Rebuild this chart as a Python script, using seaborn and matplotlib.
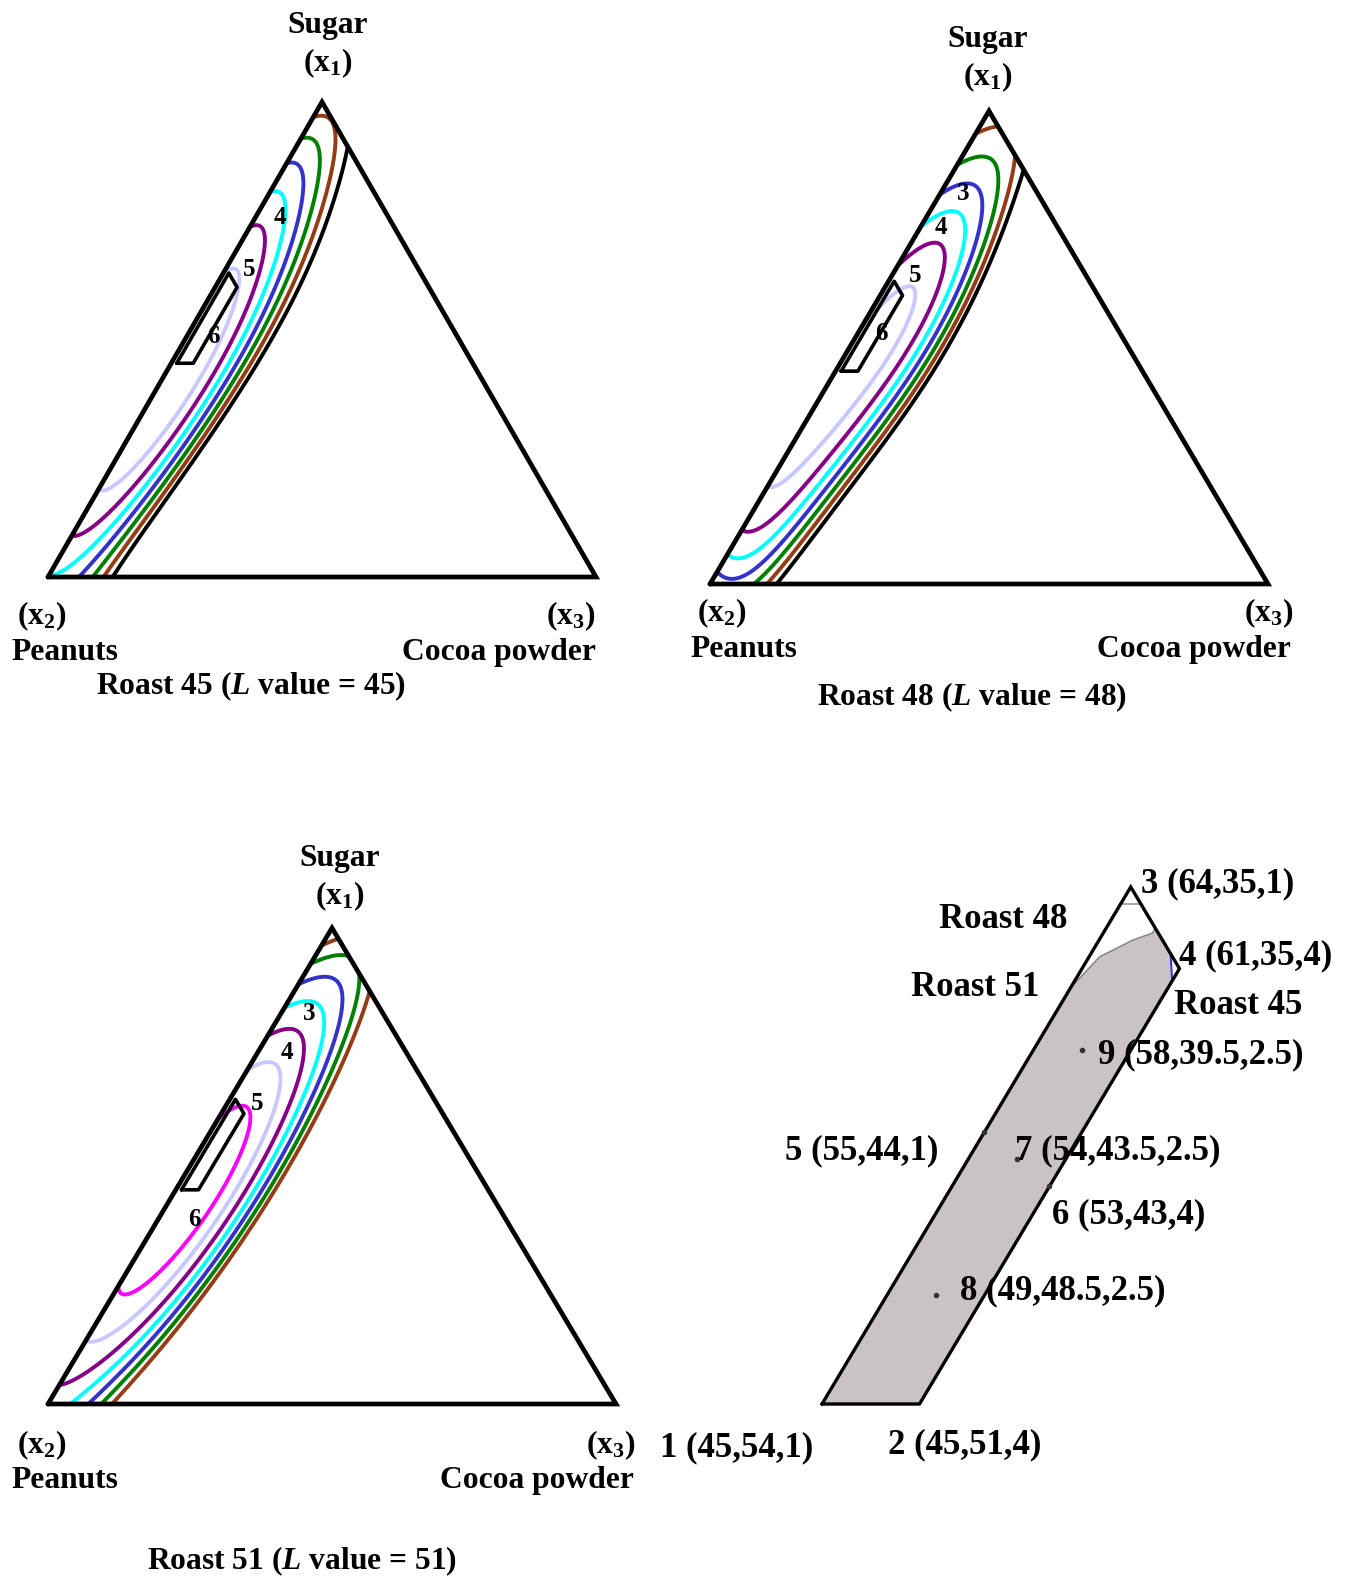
import numpy as np
import matplotlib
matplotlib.use("Agg")
import matplotlib.pyplot as plt
import seaborn as sns

# contour readings: sugar and cocoa fractions of points lying on each contour line
r45_sugar = [0, .27, .5, .73, .86, .906,
             0, .27, .5, .72, .839, .9025, .9446, .9726,
             0, .27, .5, .72, .832, .874, .909, .9236,
             0, .27, .5, .692, .797, .832, .857, .867,
             0, .1, .27, .5, .629, .685, .734, .776, .80, .808,
             .088, .113, .176, .27, .5, .615, .664, .706, .7305, .741,
             .19, .2, .27, .41, .5, .608, .636, .646]
r45_cocoa = [.116, .146, .157, .135, .108, .094,
             .104, .134, .146, .128, .097, .072, .049, .012,
             .083, .121, .132, .105, .0757, .058, .037, 0,
             .052, .106, .119, .094, .066, .051, .036, 0,
             .0097, .06, .094, .105, .086, .076, .064, .046, .031, 0,
             0, .03, .06, .076, .089, .075, .059, .044, .029, 0,
             0, .035, .052, .066, .065, .0385, .025, 0]
r45_level = [0] * 6 + [1] * 8 + [2] * 8 + [3] * 8 + [4] * 10 + [5] * 10 + [6] * 8

r48_sugar = [0, .3, .5, .65, .73, .829, .875,
             0, .3, .5, .646, .731, .801, .872, .907, .955, .967,
             0, .3, .5, .646, .731, .801, .872, .896, .886,
             .025, .01, .3, .5, .59, .66, .731, .808, .854, .822,
             .062, .054, .3, .5, .618, .674, .745, .791, .748,
             .115, .142, .3, .5, .56, .618, .689, .72, .667,
             .22, .24, .3, .5, .59, .63]
r48_cocoa = [.118, .160, .177, .164, .152, .138, .125,
             .106, .150, .168, .155, .142, .125, .102, .093, 0, .033,
             .07, .138, .153, .143, .130, .113, .081, .030, 0,
             0, .035, .123, .138, .135, .130, .118, .086, .033, 0,
             0, .045, .108, .123, .121, .111, .0815, .041, 0,
             .005, .04, .085, .105, .104, .097, .068, .040, 0,
             .021, .038, .050, .084, .063, .015]
r48_level = [0] * 7 + [1] * 10 + [2] * 9 + [3] * 10 + [4] * 9 + [5] * 9 + [6] * 6

r51_sugar = [0, .269, .5336, .635, .712, .796, .866, .96, .972,
             0, .269, .5336, .65, .747, .852, .898, .922, .954,
             0, .269, .5336, .635, .712, .796, .866, .905, .884,
             0, .269, .5336, .663, .747, .817, .8557, .8417,
             .0504, .08, .269, .5336, .607, .677, .747, .779, .761,
             .131, .16, .269, .5336, .635, .691, .7227, .691,
             .229, .245, .269, .40, .5336, .607, .6176, .62]
r51_cocoa = [.112, .167, .171, .17, .163, .148, .134, 0, .028,
             .0915, .151, .159, .155, .14, .112, .102, 0, .046,
             .074, .137, .150, .145, .135, .113, .083, .032, 0,
             .042, .124, .139, .125, .102, .07, .028, 0,
             0, .045, .110, .124, .117, .1, .074, .042, 0,
             0, .045, .089, .1065, .088, .065, .030, 0,
             .003, .035, .054, .074, .074, .049, .029, 0]
r51_level = [0] * 9 + [1] * 9 + [2] * 9 + [3] * 8 + [4] * 9 + [5] * 8 + [6] * 8

# constrained design region (%) and the check points
design_id = [1, 2, 4, 3]
design_sugar = [45, 45, 61, 64]
design_peanut = [54, 51, 35, 35]
design_cocoa = [1, 4, 4, 1]
pt_id = [5, 6, 7, 8, 9]
pt_sugar = [55, 53, 54, 49, 58]
pt_peanut = [44, 43, 43.5, 48.5, 39.5]
pt_cocoa = [1, 4, 2.5, 2.5, 2.5]

# boundaries inside the design region (fractions)
r51_bound_sugar = [.603, .6144, .6205, .6231, .625]
r51_bound_cocoa = [.01, .0133, .0204, .0252, .025]
r48_bound_sugar = [.6336, .6336]
r48_bound_cocoa = [.01, .0164]
r45_bound_sugar = [.6155, .6055]
r45_bound_cocoa = [.0345, .04]

BROWN, GREEN, BLUE = '#953c14', '#008000', '#3333cc'
CYAN, PURPLE, LAV, MAG = '#00ffff', '#850085', '#c8c8ff', '#ff00ff'
cols_a = ['black', BROWN, GREEN, BLUE, CYAN, PURPLE, LAV]
cols_b = [BROWN, GREEN, BLUE, CYAN, PURPLE, LAV, MAG]

sns.set_theme(style='white')
plt.rcParams['font.family'] = ['Liberation Serif', 'DejaVu Serif']
plt.rcParams['font.weight'] = 'bold'
plt.rcParams['text.color'] = 'black'
plt.rcParams['mathtext.fontset'] = 'custom'
plt.rcParams['mathtext.rm'] = 'Liberation Serif:bold'
plt.rcParams['mathtext.it'] = 'Liberation Serif:italic:bold'
plt.rcParams['mathtext.bf'] = 'Liberation Serif:bold'

W, H = 1355, 1576
fig = plt.figure(figsize=(W / 100, H / 100), dpi=100)
fig.patch.set_facecolor('white')


def ftext(x, y, s, size=22.7, ha='center', **kw):
    y = y + 3
    fig.text(x / W, 1 - y / H, s, ha=ha, va='center', fontsize=size,
             fontweight='bold', color='black', **kw)


def terms(s, c):
    cols = [s ** i for i in range(6)]
    cols += [c * s ** i for i in range(5)]
    cols += [c ** 2 * s ** i for i in range(4)]
    cols += [c ** 3 * s ** i for i in range(2)]
    return np.column_stack(cols)


def surface(sug, coc, lev, S, C):
    # least squares response surface through the contour readings
    X = terms(np.asarray(sug, float), np.asarray(coc, float))
    beta = np.linalg.lstsq(X, np.asarray(lev, float), rcond=None)[0]
    F = terms(S.ravel(), C.ravel()) @ beta
    return F.reshape(S.shape)


def tern_panel(rect, sug, coc, lev, colors):
    left, right, top, bottom = rect
    ax = fig.add_axes([left / W, 1 - bottom / H, (right - left) / W, (bottom - top) / H])
    ax.set_xlim(0, 1)
    ax.set_ylim(0, 1)
    ax.axis('off')
    s = np.linspace(0, 0.998, 300)
    t = np.linspace(0, 1, 300)
    S, T = np.meshgrid(s, t)
    C = T * (1 - S)
    F = np.ma.masked_where(C > 0.26, surface(sug, coc, lev, S, C))
    ax.contour(C + S / 2, S, F, levels=sorted(set(lev)), colors=colors,
               linewidths=2.8, zorder=2)
    ds = np.array(design_sugar + design_sugar[:1]) / 100
    dc = np.array(design_cocoa + design_cocoa[:1]) / 100
    ax.plot(dc + ds / 2, ds, color='black', lw=2.6, zorder=3)
    ax.plot([0, 1, .5, 0], [0, 0, 1, 0], color='black', lw=3.4, zorder=4,
            clip_on=False, solid_joinstyle='miter')
    return ax


tern_panel((48, 596, 102, 577), r45_sugar, r45_cocoa, r45_level, cols_a)
tern_panel((710, 1268, 111, 584), r48_sugar, r48_cocoa, r48_level, cols_a)
tern_panel((48, 616, 928, 1404), r51_sugar, r51_cocoa, r51_level, cols_b)

# contour value labels
for lab, x, y in [('4', 279.5, 214), ('5', 249.3, 266.4), ('6', 213, 333.7),
                  ('3', 963, 191), ('4', 941, 225), ('5', 914.7, 272.4), ('6', 881.6, 330.7),
                  ('3', 309.6, 1010), ('4', 286.5, 1049.4), ('5', 257.3, 1100.7),
                  ('6', 194, 1216.3)]:
    ftext(x, y, lab, size=18)

# vertex captions and titles
for (sx, sy, x2x, x3x, xy_, py_, cx, ty, title, tx) in [
        (327.7, 22, 42.2, 571, 613, 649.4, 498.6, 683.5, '45', 251.3),
        (988, 36.2, 721.7, 1268.6, 610, 646.3, 1194, 694.6, '48', 972),
        (339.8, 855.4, 42.2, 611, 1442.5, 1477.6, 536.8, 1558, '51', 301.6)]:
    ftext(sx, sy, 'Sugar')
    ftext(sx, sy + 38, r'($\mathregular{x_1}$)')
    ftext(x2x, xy_, r'($\mathregular{x_2}$)')
    ftext(x3x, xy_, r'($\mathregular{x_3}$)')
    ftext(65.3 if sx < 600 else 743.8, py_, 'Peanuts')
    ftext(cx, py_, 'Cocoa powder')
    ftext(tx, ty, 'Roast %s ($\\mathit{L}$ value = %s)' % (title, title))

# design region close-up
ax4 = fig.add_axes([700 / W, 1 - 1450 / H, 600 / W, 600 / H])
ax4.set_xlim(.19746, .38208)
ax4.set_ylim(.4331, .6536)
ax4.axis('off')
ds = np.array(design_sugar) / 100
dc = np.array(design_cocoa) / 100
shade_s = np.concatenate([ds[:2], r45_bound_sugar[::-1], r51_bound_sugar[::-1]])
shade_c = np.concatenate([dc[:2], r45_bound_cocoa[::-1], r51_bound_cocoa[::-1]])
ax4.fill(shade_c + shade_s / 2, shade_s, color='#c9c3c7', lw=0, zorder=1)
ax4.plot(np.array(r51_bound_cocoa) + np.array(r51_bound_sugar) / 2, r51_bound_sugar,
         color='#8c8c8c', lw=1.2, zorder=2)
ax4.plot(np.array(r48_bound_cocoa) + np.array(r48_bound_sugar) / 2, r48_bound_sugar,
         color='#9a9a9a', lw=1.2, zorder=2)
ax4.plot(np.array(r45_bound_cocoa) + np.array(r45_bound_sugar) / 2, r45_bound_sugar,
         color=BLUE, lw=1.4, zorder=2)
ax4.plot(np.append(dc, dc[0]) + np.append(ds, ds[0]) / 2, np.append(ds, ds[0]),
         color='black', lw=2.4, zorder=3, solid_joinstyle='miter')
ps = np.array(pt_sugar) / 100
pc = np.array(pt_cocoa) / 100
sns.scatterplot(x=pc + ps / 2, y=ps, ax=ax4, color='#333333', s=16, linewidth=0, zorder=4)

lab = {i: '%d (%g,%g,%g)' % (i, s, p, c) for i, s, p, c in
       zip(design_id + pt_id, design_sugar + pt_sugar, design_peanut + pt_peanut,
           design_cocoa + pt_cocoa)}
ftext(736.8, 1444.5, lab[1], size=25)
ftext(965, 1441.5, lab[2], size=25)
ftext(1141, 880.6, lab[3], size=25, ha='left')
ftext(1179, 953, lab[4], size=25, ha='left')
ftext(861.5, 1148, lab[5], size=25)
ftext(1051.5, 1212.3, lab[6], size=25, ha='left')
ftext(1015, 1148, lab[7], size=25, ha='left')
ftext(960, 1287.7, lab[8], size=25, ha='left')
ftext(1097.7, 1051.4, lab[9], size=25, ha='left')
ftext(1003, 916.7, 'Roast 48', size=25)
ftext(975, 984, 'Roast 51', size=25)
ftext(1238.4, 1002, 'Roast 45', size=25)

fig.savefig('out.png', dpi=100, facecolor='white')
